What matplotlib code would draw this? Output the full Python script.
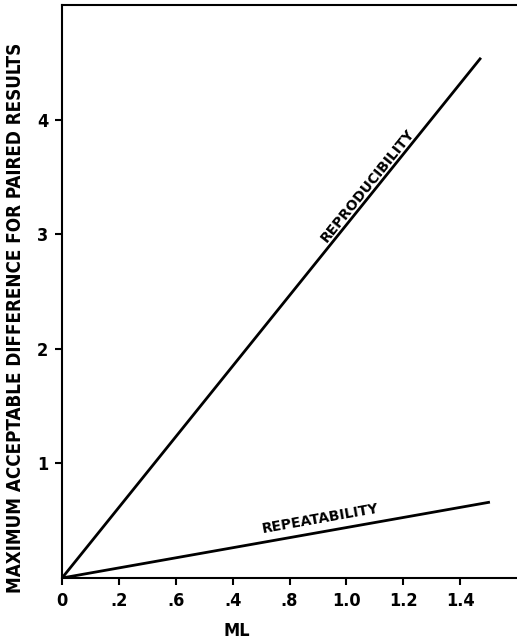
import numpy as np
import matplotlib.pyplot as plt

# values
ml = [0.0, 1.47]
reproducibility = [0.0, 4.53]
ml_rep = [0.0, 1.5]
repeatability = [0.0, 0.66]

x_ticks = [0, 0.2, 0.4, 0.6, 0.8, 1.0, 1.2, 1.4]
x_labels = ['0', '.2', '.6', '.4', '.8', '1.0', '1.2', '1.4']
y_ticks = [1, 2, 3, 4]
y_labels = ['1', '2', '3', '4']

plt.rcParams['font.family'] = ['DejaVu Sans']
plt.rcParams['font.weight'] = 'bold'
plt.rcParams['font.stretch'] = 'condensed'

fig = plt.figure(figsize=(5.17, 6.42), dpi=100)
ax = fig.add_axes([0.12, 0.0997, 0.88, 0.8925])

ax.plot(ml, reproducibility, color='black', lw=2)
ax.plot(ml_rep, repeatability, color='black', lw=2)

ax.set_xlim(0, 1.6)
ax.set_ylim(0, 5)
ax.spines['right'].set_visible(False)
for s in ['left', 'bottom', 'top']:
    ax.spines[s].set_linewidth(1.5)

ax.set_xticks(x_ticks)
ax.set_xticklabels(x_labels, fontsize=13, fontweight='bold')
ax.set_yticks(y_ticks)
ax.set_yticklabels(y_labels, fontsize=13, fontweight='bold')
ax.tick_params(direction='out', length=5, width=1.5, pad=5)

ax.set_xlabel('ML', fontsize=13, fontweight='bold')
ax.xaxis.set_label_coords(0.385, -0.077)
ax.set_ylabel('MAXIMUM ACCEPTABLE DIFFERENCE FOR PAIRED RESULTS',
              fontsize=13.5, fontweight='bold')
ax.yaxis.set_label_coords(-0.081, 0.454)

# labels along the lines
fig.canvas.draw()
def angle(xs, ys):
    p = ax.transData.transform(np.column_stack([xs, ys]))
    return np.degrees(np.arctan2(p[1, 1] - p[0, 1], p[1, 0] - p[0, 0]))

ax.text(1.075, 3.42, 'REPRODUCIBILITY', rotation=angle(ml, reproducibility),
        ha='center', va='center', fontsize=10, fontweight='bold',
        fontstretch='normal', rotation_mode='anchor')
ax.text(0.91, 0.52, 'REPEATABILITY', rotation=angle(ml_rep, repeatability),
        ha='center', va='center', fontsize=10, fontweight='bold',
        fontstretch='normal', rotation_mode='anchor')

fig.savefig('out.png', dpi=100)
